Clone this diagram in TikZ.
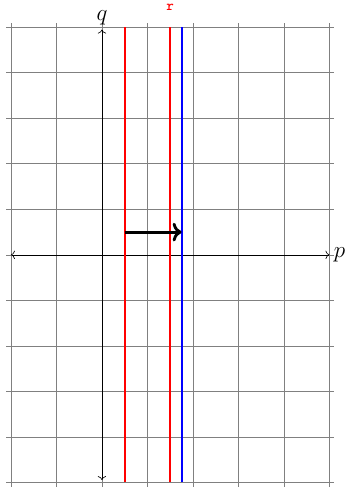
\documentclass[tikz,border=0pt]{standalone}
\usepackage{tikz}
\usetikzlibrary{arrows.meta, positioning}

\begin{document}
\begin{tikzpicture}[
  gridline/.style={help lines, gray, thin},
  axis/.style={<->, thin},
  redline/.style={red, very thick},
  blueline/.style={blue, very thick},
  shiftarr/.style={->, line width=1.8pt}
]
  \useasboundingbox (-2.24,-5.19) rectangle (5.43,5.6);
  \draw[gridline] (-2.1,-5.1) grid (5.1,5.1);

  % axes
  \coordinate (pl) at (-2,0);
  \coordinate (pr) at (5,0);
  \coordinate (qb) at (0,-4.95);
  \coordinate (qt) at (0,4.95);
  \draw[axis] (pl) -- (pr) node[right, font=\Large, inner sep=2.5pt] (p) {$p$};
  \draw[axis] (qb) -- (qt) node[above, font=\Large, inner sep=2.5pt] (q) {$q$};

  % level lines
  \coordinate (r1b) at (0.5,-5);
  \coordinate (r1t) at (0.5,5);
  \coordinate (r2b) at (1.5,-5);
  \coordinate (r2t) at (1.5,5);
  \coordinate (bb) at (1.75,-5);
  \coordinate (bt) at (1.75,5);
  \draw[redline] (r1b) -- (r1t);
  \draw[redline] (r2b) -- (r2t);
  \draw[blueline] (bb) -- (bt);
  \node[red, font=\small\ttfamily\bfseries, above=0.25cm of r2t] (r) {r};

  \coordinate (start) at (0.5,0.5);
  \coordinate (stop) at (1.75,0.5);
  \draw[shiftarr] (start) -- (stop);
\end{tikzpicture}
\end{document}
